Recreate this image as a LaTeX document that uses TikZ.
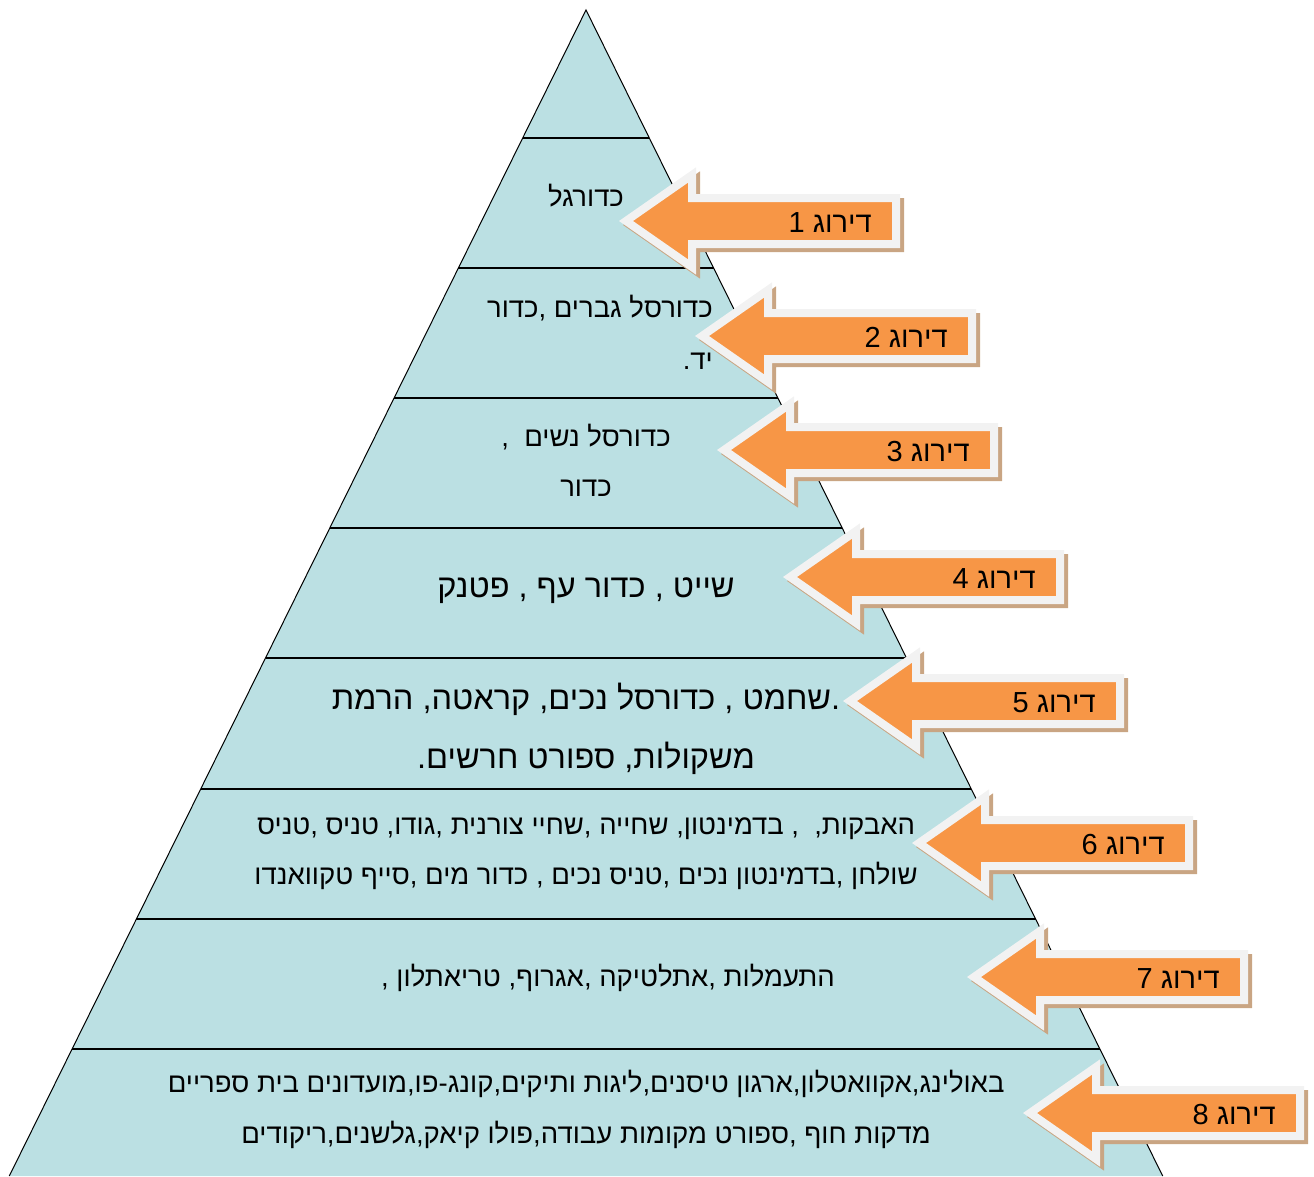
\documentclass[tikz,border=0pt]{standalone}
\usepackage{fontspec}
\newfontfamily\hebfont[Script=Hebrew]{Liberation Sans}
\TeXXeTstate=1
\usetikzlibrary{positioning}
\definecolor{pyrfill}{HTML}{BBE0E3}
\definecolor{arrfill}{HTML}{F79646}
\definecolor{arrrim}{HTML}{F2F2F2}
\definecolor{arrshade}{HTML}{C9A583}

\begin{document}
\begin{tikzpicture}[x=1pt,y=-1pt,
		edge/.style={draw=black,line width=1pt},
		level/.style={draw=black,line width=1.4pt},
		rowtext/.style={font=\hebfont\fontsize{27.5}{27.5}\selectfont,inner sep=0pt,anchor=base},
		bigtext/.style={rowtext,font=\hebfont\fontsize{32.5}{32.5}\selectfont},
		rank/.style={font=\hebfont\fontsize{29}{29}\selectfont,inner sep=0pt,anchor=base east},
		arrbody/.style={fill=arrfill,draw=arrrim,line width=8pt},
		arrshadow/.style={fill=arrshade,draw=arrshade,line width=8pt}
		]
		\useasboundingbox (0,0) rectangle (1314,1176);
		% pyramid
		\coordinate (apex) at (586,10);
		\coordinate (baseL) at (9.3,1176);
		\coordinate (baseR) at (1162.7,1176);
		\fill[pyrfill] (apex) -- (baseL) -- (baseR) -- cycle;
		\draw[edge] (baseL) -- (apex) -- (baseR);
		% level lines
		\foreach \ly [count=\li] in {138,268,398,528,658,789,919,1049}
			{\pgfmathsetmacro\hw{(\ly-10)*0.4946}
			\draw[level] ({586-\hw},\ly) coordinate (lvl\li-w) -- ({586+\hw},\ly) coordinate (lvl\li-e);
			}
		% sports per level
		\node[rowtext] (row1) at (586,206) {\beginR כדורגל\endR};
		\node[rowtext,anchor=base east] (row2a) at (713,317) {\beginR כדורסל גברים ,כדור\endR};
		\node[rowtext,anchor=base east] (row2b) at (713,369) {\beginR יד.\endR};
		\node[rowtext] (row3a) at (586,446) {\beginR כדורסל נשים \ ,\endR};
		\node[rowtext] (row3b) at (586,496) {\beginR כדור\endR};
		\node[bigtext] (row4) at (586,597) {\beginR שייט , כדור עף , פטנק\endR};
		\node[bigtext] (row5a) at (586,709) {\beginR .שחמט , כדורסל נכים, קראטה, הרמת\endR};
		\node[bigtext] (row5b) at (586,768) {\beginR משקולות, ספורט חרשים.\endR};
		\node[rowtext] (row6a) at (586,834) {\beginR האבקות, \ , בדמינטון, שחייה ,שחיי צורנית ,גודו, טניס ,טניס\endR};
		\node[rowtext] (row6b) at (586,884) {\beginR שולחן ,בדמינטון נכים ,טניס נכים , כדור מים ,סייף טקוואנדו\endR};
		\node[rowtext] (row7) at (608,986) {\beginR התעמלות ,אתלטיקה ,אגרוף, טריאתלון ,\endR};
		\node[rowtext] (row8a) at (586,1092) {\beginR באולינג,אקוואטלון,ארגון טיסנים,ליגות ותיקים,קונג-פו,מועדונים בית ספריים\endR};
		\node[rowtext] (row8b) at (586,1143) {\beginR מדקות חוף ,ספורט מקומות עבודה,פולו קיאק,גלשנים,ריקודים\endR};
		% rank arrows
		\foreach \tx/\cy [count=\ri] in {626/221,702/336,724/450,790/577,850/701,919/843,974/977,1030/1113}
			{\draw[arrshadow,shift={(4,4)}] (\tx,\cy) -- ++(66,-46) -- ++(0,23) -- ++(204,0) -- ++(0,46) -- ++(-204,0) -- ++(0,23) -- cycle;
			\draw[arrbody] (\tx,\cy) coordinate (tip\ri) -- ++(66,-46) -- ++(0,23) -- ++(204,0) -- ++(0,46) -- ++(-204,0) -- ++(0,23) -- cycle;
			\node[rank] (rank\ri) at ({\tx+246},{\cy+11}) {\beginR דירוג \ri\endR};
			}
\end{tikzpicture}
\end{document}
